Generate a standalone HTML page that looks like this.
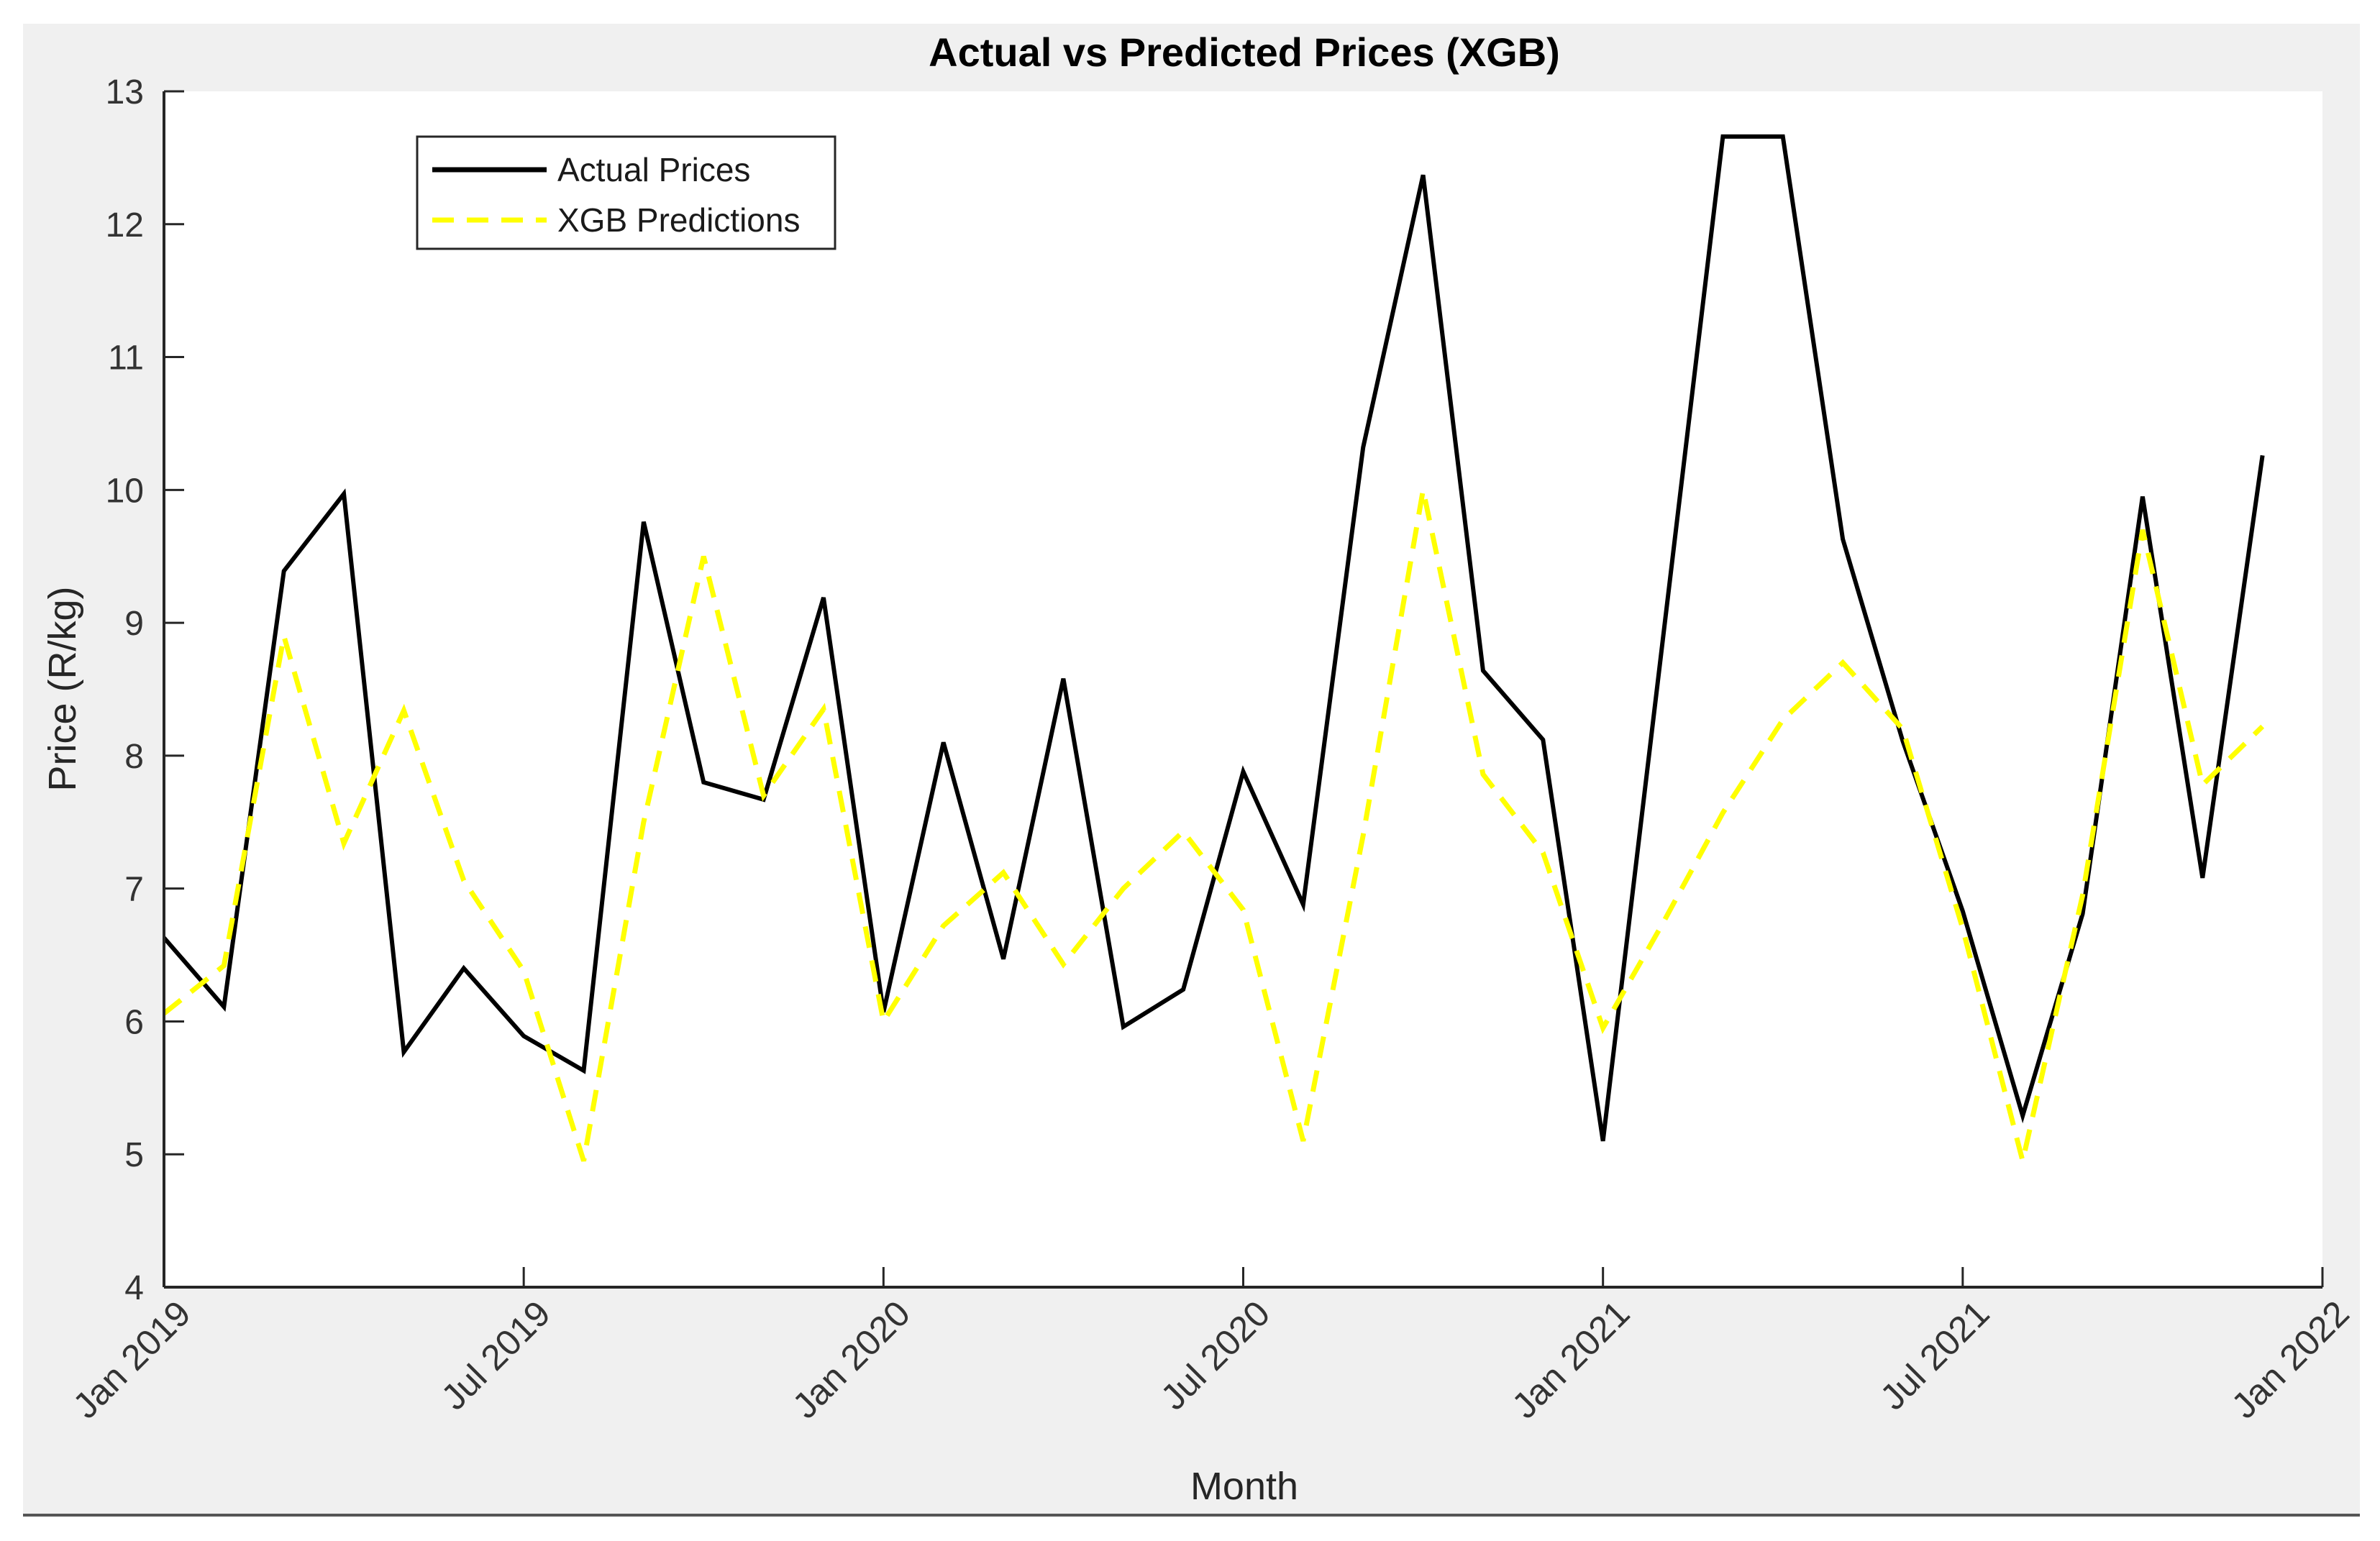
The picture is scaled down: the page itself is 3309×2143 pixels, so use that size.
<!DOCTYPE html>
<html><head><meta charset="utf-8"><style>
html,body{margin:0;padding:0;background:#fff;}
svg{display:block;font-family:"Liberation Sans",Arial,sans-serif;}
</style></head><body>
<svg id="chart" width="3309" height="2143" viewBox="0 0 3309 2143">
<rect x="32" y="33" width="3249" height="2074" fill="#f0f0f0"/>
<line x1="32" y1="2107" x2="3281" y2="2107" stroke="#555" stroke-width="4"/>
<rect x="228" y="127" width="3001" height="1663" fill="#fff"/>
<text x="1730" y="92" text-anchor="middle" font-size="56" font-weight="bold" fill="#000">Actual vs Predicted Prices (XGB)</text>
<g id="series"></g>
<g id="axes"></g>
<text x="1730" y="2085" text-anchor="middle" font-size="54" fill="#262626">Month</text>
<text transform="translate(105,958) rotate(-90)" text-anchor="middle" font-size="54" fill="#262626">Price (R/kg)</text>
<g>
<rect x="580" y="190" width="581" height="156" fill="#fff" stroke="#262626" stroke-width="3"/>
<line x1="601" y1="236" x2="760" y2="236" stroke="#000" stroke-width="7"/>
<text x="775" y="252" font-size="46" fill="#1a1a1a">Actual Prices</text>
<line x1="601" y1="306" x2="760" y2="306" stroke="#ffff00" stroke-width="7" stroke-dasharray="30,18"/>
<text x="775" y="322" font-size="46" fill="#1a1a1a">XGB Predictions</text>
</g>
</svg>
<script>
const actualPrices = [6.63,6.11,9.39,9.97,5.77,6.40,5.89,5.63,9.76,7.80,7.67,9.19,6.07,8.10,6.47,8.58,5.96,6.24,7.88,6.88,10.32,12.37,8.64,8.12,5.10,8.88,12.66,12.66,9.63,8.11,6.83,5.29,6.81,9.95,7.08,10.26];
const xgbPredictions = [6.06,6.42,8.90,7.34,8.34,7.06,6.38,4.95,7.50,9.50,7.70,8.35,6.00,6.72,7.12,6.43,7.00,7.43,6.84,5.10,7.40,10.00,7.86,7.27,5.95,6.74,7.57,8.27,8.70,8.20,6.70,4.95,6.95,9.70,7.78,8.22];
const yTicks = [4,5,6,7,8,9,10,11,12,13];
const xTickLabels = ["Jan 2019","Jul 2019","Jan 2020","Jul 2020","Jan 2021","Jul 2021","Jan 2022"];
const xTickMonths = [0,6,12,18,24,30,36];

const NS="http://www.w3.org/2000/svg";
const L=228,R=3229,T=127,B=1790;
const yMin=4,yMax=13,mMax=36;
const xs=m=>L+(R-L)*m/mMax;
const ys=v=>B-(B-T)*(v-yMin)/(yMax-yMin);
const series=document.getElementById('series');
const axes=document.getElementById('axes');
function mk(tag,attrs,parent){const e=document.createElementNS(NS,tag);for(const k in attrs)e.setAttribute(k,attrs[k]);parent.appendChild(e);return e;}

const pa=mk('polyline',{points:actualPrices.map((v,i)=>xs(i)+','+ys(v)).join(' '),fill:'none',stroke:'#000','stroke-width':6,'stroke-linejoin':'miter'},series);


const pp=mk('polyline',{points:xgbPredictions.map((v,i)=>xs(i)+','+ys(v)).join(' '),fill:'none',stroke:'#ffff00','stroke-width':7,'stroke-dasharray':'30,18'},series);



const ya=mk('line',{x1:L,y1:T,x2:L,y2:B,stroke:'#262626','stroke-width':4},axes);


const xa=mk('line',{x1:L,y1:B,x2:R,y2:B,stroke:'#262626','stroke-width':4},axes);



yTicks.forEach(v=>{
  const y=ys(v);
  const t=mk('line',{x1:L,y1:y,x2:L+28,y2:y,stroke:'#262626','stroke-width':3},axes);
  
  
  const tx=mk('text',{x:200,y:y+17,'text-anchor':'end','font-size':48,fill:'#333'},axes);
  tx.textContent=v;
  
  
});
xTickMonths.forEach((m,i)=>{
  const x=xs(m);
  const t=mk('line',{x1:x,y1:B,x2:x,y2:B-28,stroke:'#262626','stroke-width':3},axes);
  
  
  const tx=mk('text',{transform:'translate('+(x+40)+',1830) rotate(-45)','text-anchor':'end','font-size':50,fill:'#333'},axes);
  tx.textContent=xTickLabels[i];
  
  
});
</script>
</body></html>
